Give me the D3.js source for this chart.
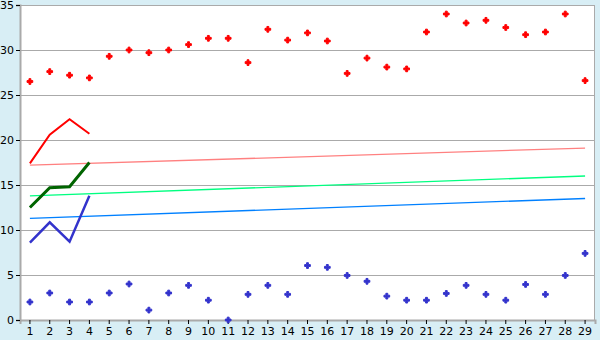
<!DOCTYPE html>
<html>
<head>
<meta charset="utf-8">
<script src="https://cdn.jsdelivr.net/npm/d3@7"></script>
<style>
  body { margin: 0; background: #d8eef5; }
  svg { display: block; }
  .tick text { font-family: "DejaVu Sans", Verdana, sans-serif; font-size: 11px; fill: #000; }
</style>
</head>
<body>
<svg id="chart"></svg>
<script>
const categories = d3.range(1, 30).map(String);

// scatter series
const highValues = [26.5, 27.6, 27.2, 26.9, 29.3, 30.0, 29.7, 30.0, 30.6, 31.3,
  31.3, 28.6, 32.3, 31.1, 31.9, 31.0, 27.4, 29.1, 28.1, 27.9,
  32.0, 34.0, 33.0, 33.3, 32.5, 31.7, 32.0, 34.0, 26.6];
const lowValues = [2.0, 3.0, 2.0, 2.0, 3.0, 4.0, 1.1, 3.0, 3.85, 2.2,
  0.0, 2.85, 3.85, 2.85, 6.05, 5.85, 4.95, 4.3, 2.65, 2.2,
  2.2, 2.95, 3.85, 2.85, 2.2, 3.95, 2.85, 4.95, 7.4];

// short line series (first four categories)
const redLine = [17.4, 20.6, 22.3, 20.7];
const greenLine = [12.5, 14.7, 14.8, 17.5];
const blueLine = [8.6, 10.85, 8.7, 13.8];

// trend lines: value at first and last category
const trendPink = [17.2, 19.1];
const trendGreen = [13.8, 16.0];
const trendBlue = [11.3, 13.5];

const yTicks = [0, 5, 10, 15, 20, 25, 30, 35];

const width = 600, height = 340;
const margin = { top: 5, right: 5, bottom: 20, left: 20 };
const w = width - margin.left - margin.right;
const h = height - margin.top - margin.bottom;

const svg = d3.select("#chart")
    .attr("width", width)
    .attr("height", height);

const g = svg.append("g")
    .attr("transform", `translate(${margin.left},${margin.top})`);

const x = d3.scaleBand().domain(categories).range([0, w]);
const y = d3.scaleLinear().domain([0, 35]).range([h, 0]);
const cx = d => x(d) + x.bandwidth() / 2;

// plot background
g.append("rect")
    .attr("width", w)
    .attr("height", h)
    .attr("fill", "#fff");

// gridlines
g.selectAll(".grid")
    .data(yTicks)
    .enter().append("line")
    .attr("x1", 0)
    .attr("x2", w)
    .attr("y1", d => Math.round(y(d)) + 0.5)
    .attr("y2", d => Math.round(y(d)) + 0.5)
    .attr("stroke", "#aaa");

// right border
g.append("line")
    .attr("x1", w - 0.5).attr("x2", w - 0.5)
    .attr("y1", 0).attr("y2", h)
    .attr("stroke", "#aaa");

// axes
const xAxis = g.append("g")
    .attr("transform", `translate(0,${h})`)
    .call(d3.axisBottom(x).tickSize(4).tickPadding(3));
const yAxis = g.append("g")
    .call(d3.axisLeft(y).tickValues(yTicks).tickSize(4).tickPadding(2));
[xAxis, yAxis].forEach(a => {
    a.select(".domain").attr("stroke", "#aaa").attr("stroke-width", 2);
    a.selectAll(".tick line").attr("stroke", "#000");
});

// trend lines
const trends = [
    { vals: trendPink, color: "#ff8080" },
    { vals: trendGreen, color: "#00ff80" },
    { vals: trendBlue, color: "#0080ff" }
];
g.selectAll(".trend")
    .data(trends)
    .enter().append("line")
    .attr("x1", cx(categories[0]))
    .attr("x2", cx(categories[categories.length - 1]))
    .attr("y1", d => y(d.vals[0]))
    .attr("y2", d => y(d.vals[1]))
    .attr("stroke", d => d.color)
    .attr("stroke-width", 1.3);

// short lines
const line = d3.line()
    .x((d, i) => cx(categories[i]))
    .y(d => y(d));
const series = [
    { vals: redLine, color: "#ff0000", sw: 2 },
    { vals: greenLine, color: "#006400", sw: 3 },
    { vals: blueLine, color: "#3333cc", sw: 2.5 }
];
g.selectAll(".series")
    .data(series)
    .enter().append("path")
    .attr("d", d => line(d.vals))
    .attr("fill", "none")
    .attr("stroke", d => d.color)
    .attr("stroke-width", d => d.sw);

// markers
const marker = d3.symbol().type(d3.symbolCross).size(18);
const drawMarkers = (vals, color) => g.append("g")
    .selectAll("path")
    .data(vals)
    .enter().append("path")
    .attr("d", marker)
    .attr("transform", (d, i) => `translate(${cx(categories[i])},${y(d)})`)
    .attr("fill", color)
    .attr("stroke", color)
    .attr("stroke-width", 1)
    .attr("stroke-linejoin", "round");
drawMarkers(highValues, "#ff0000");
drawMarkers(lowValues, "#3333cc");
</script>
</body>
</html>
